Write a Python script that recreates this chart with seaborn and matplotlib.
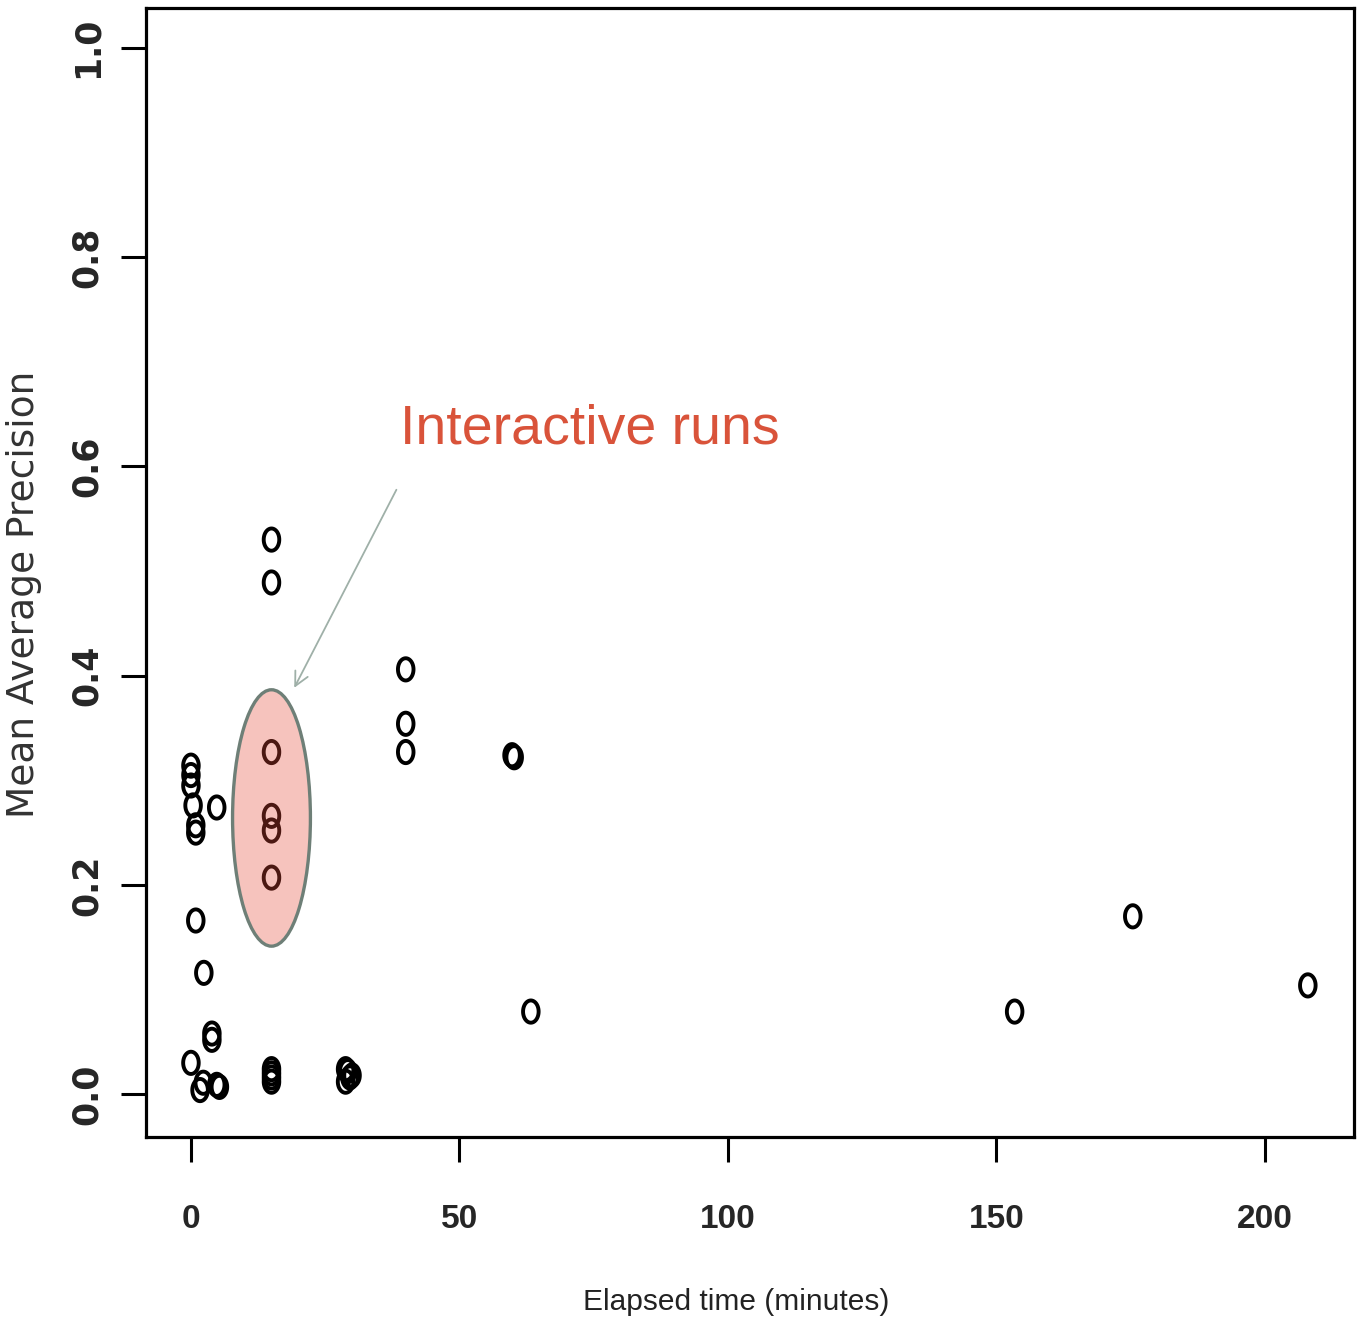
import numpy as np
import pandas as pd
import matplotlib
matplotlib.use("Agg")
import matplotlib.pyplot as plt
from matplotlib.path import Path
from matplotlib.patches import Ellipse
import seaborn as sns

# Elapsed time (minutes) and mean average precision for each run
elapsed = [0, 0, 0, 0.4, 0.9, 0.9, 4.8, 0.9, 2.4, 3.9, 3.9, 0, 1.7, 2.3, 4.8, 5.3,
           15, 15, 15, 15,
           28.8, 29.6, 29.2, 30.0, 28.8,
           15, 15, 15, 15,
           15, 15,
           40, 40, 40,
           59.8, 60.2, 63.3, 153.4, 175.4, 208.0]
map_score = [0.314, 0.305, 0.295, 0.276, 0.257, 0.250, 0.274, 0.166, 0.116, 0.058, 0.052,
             0.030, 0.004, 0.011, 0.009, 0.007,
             0.012, 0.016, 0.020, 0.024,
             0.012, 0.016, 0.022, 0.018, 0.024,
             0.327, 0.266, 0.252, 0.207,
             0.530, 0.489,
             0.406, 0.354, 0.327,
             0.324, 0.322, 0.079, 0.079, 0.170, 0.104]

x_ticks = [0, 50, 100, 150, 200]
y_ticks = [0.0, 0.2, 0.4, 0.6, 0.8, 1.0]
y_tick_labels = ["0.0", "0.2", "0.4", "0.6", "0.8", "1.0"]

# Highlighted group of interactive runs
group_center = (15, 0.264)
group_size = (14.5, 0.245)
note_text = "Interactive runs"

df = pd.DataFrame({"elapsed": elapsed, "map": map_score})

sns.set_style("ticks")
plt.rcParams["font.family"] = ["DejaVu Sans"]
arial = ["Liberation Sans", "DejaVu Sans"]

fig = plt.figure(figsize=(13.63, 13.30), dpi=100)
ax = fig.add_axes([0.107, 0.145, 0.8864, 0.849])

# tall open ring marker
t = np.linspace(0, 2 * np.pi, 60)
ring = Path(np.column_stack([0.70 * np.cos(t), np.sin(t)]), closed=True)

sns.scatterplot(data=df, x="elapsed", y="map", ax=ax, marker=ring, s=16 ** 2,
                facecolor="none", edgecolor="black", linewidth=2.8, zorder=2,
                legend=False)

ax.add_patch(Ellipse(group_center, group_size[0], group_size[1],
                     facecolor=(0.90, 0.29, 0.22), alpha=0.33, edgecolor="none",
                     zorder=3))
ax.add_patch(Ellipse(group_center, group_size[0], group_size[1],
                     facecolor="none", edgecolor="#6e7f77", linewidth=2.4,
                     zorder=4))

ax.annotate("", xy=(19.0, 0.386), xytext=(38.5, 0.580),
            arrowprops=dict(arrowstyle="->,head_length=1.0,head_width=0.5",
                            color="#9fb0a8", lw=1.3), zorder=5)
ax.text(38.9, 0.635, note_text, color="#d9533a", fontsize=40, family=arial,
        ha="left", va="center")

ax.set_xlim(-8.4, 216.6)
ax.set_ylim(-0.041, 1.038)
ax.set_xticks(x_ticks)
ax.set_yticks(y_ticks)
ax.set_xticklabels([str(v) for v in x_ticks], fontsize=24, fontweight="bold",
                   family=arial)
ax.set_yticklabels(y_tick_labels, fontsize=25, fontweight="bold", rotation=90,
                   va="center")
ax.tick_params(axis="both", direction="out", length=18, width=2.2, color="black")
ax.tick_params(axis="x", pad=30)
ax.tick_params(axis="y", pad=12)

for sp in ax.spines.values():
    sp.set_visible(True)
    sp.set_linewidth(2.3)
    sp.set_color("black")

ax.set_xlabel("Elapsed time (minutes)", fontsize=21.5, color="#222222",
              family=arial)
ax.xaxis.set_label_coords(0.489, -0.134)
ax.set_ylabel("Mean Average Precision", fontsize=27, color="#333333",
              family=["DejaVu Sans"])
ax.yaxis.set_label_coords(-0.086, 0.481)

fig.savefig("out.png", dpi=100, facecolor="white")
